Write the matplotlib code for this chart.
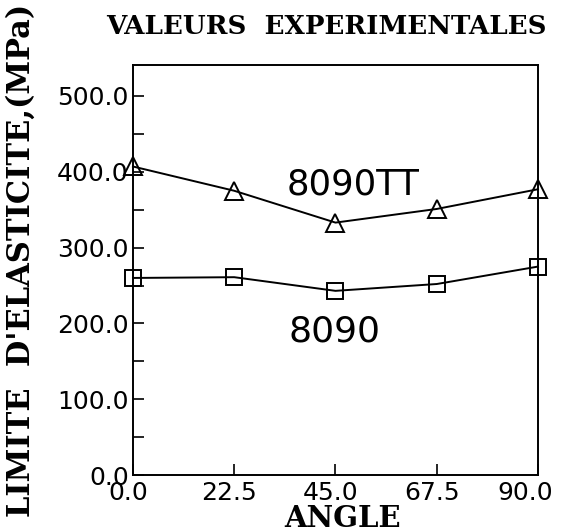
import matplotlib
matplotlib.use("Agg")
import matplotlib.pyplot as plt
from matplotlib.ticker import MultipleLocator, FormatStrFormatter
from matplotlib.transforms import ScaledTranslation

angles = [0.0, 22.5, 45.0, 67.5, 90.0]
tt_values = [407, 375, 333, 351, 377]
base_values = [260, 261, 243, 252, 275]
xticks = [0.0, 22.5, 45.0, 67.5, 90.0]
yticks = [0, 100, 200, 300, 400, 500]

fig = plt.figure(figsize=(5.61, 5.32), dpi=100)
ax = fig.add_axes([0.237, 0.107, 0.722, 0.771])

ax.plot(angles, tt_values, color='black', lw=1.4, marker='^', ms=13,
        mfc='none', mec='black', mew=1.4, clip_on=False)
ax.plot(angles, base_values, color='black', lw=1.4, marker='s', ms=11,
        mfc='none', mec='black', mew=1.4, clip_on=False)

ax.set_xlim(0, 90)
ax.set_ylim(0, 541)
ax.set_xticks(xticks)
ax.set_yticks(yticks)
ax.yaxis.set_minor_locator(MultipleLocator(50))
ax.xaxis.set_major_formatter(FormatStrFormatter('%.1f'))
ax.yaxis.set_major_formatter(FormatStrFormatter('%.1f'))
ax.tick_params(axis='both', which='both', direction='in', length=8, width=1.2,
               labelsize=18)
ax.tick_params(axis='x', pad=4)
ax.tick_params(axis='y', pad=3)
for lab in ax.get_xticklabels() + ax.get_yticklabels():
    lab.set_family('DejaVu Sans')
xlabs = ax.get_xticklabels()
for i, lab in enumerate(xlabs):
    dx = -13 if i == len(xlabs) - 1 else -5
    lab.set_transform(lab.get_transform() +
                      ScaledTranslation(dx / 100, 0, fig.dpi_scale_trans))
for s in ax.spines.values():
    s.set_linewidth(1.4)

ax.text(48.9, 383, '8090TT', fontsize=25.5, family='DejaVu Sans',
        ha='center', va='center')
ax.text(44.8, 190, '8090', fontsize=26, family='DejaVu Sans',
        ha='center', va='center')

fig.text(0.581, 0.951, 'VALEURS  EXPERIMENTALES', fontsize=18.8,
         family='DejaVu Serif', weight='bold', ha='center', va='center')
fig.text(0.611, 0.025, 'ANGLE', fontsize=21, family='DejaVu Serif',
         weight='bold', ha='center', va='center')
fig.text(0.038, 0.511, "LIMITE  D'ELASTICITE,(MPa)", fontsize=22,
         family='DejaVu Serif', weight='bold', rotation=90,
         ha='center', va='center')

fig.savefig('out.png', dpi=100)
